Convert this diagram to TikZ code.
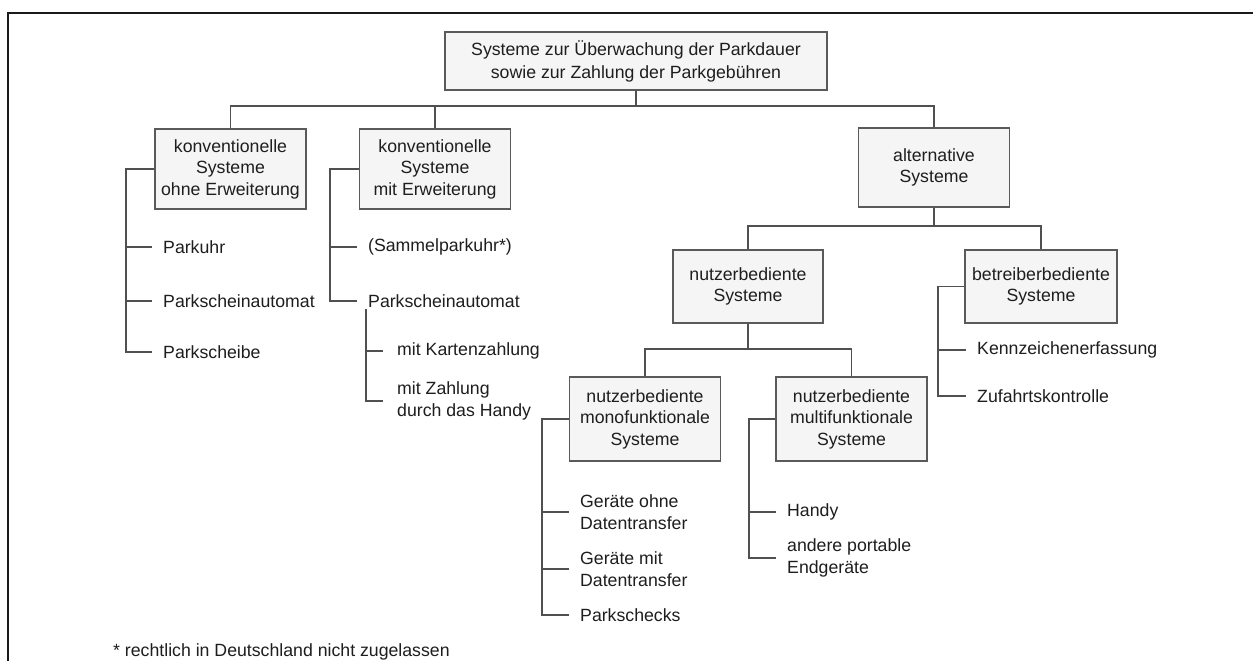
\documentclass[tikz,border=0pt]{standalone}
\usepackage{fontspec}
\setmainfont{Liberation Sans}
\definecolor{txt}{HTML}{1E1E1E}
\definecolor{boxline}{HTML}{5A5A5A}
\definecolor{boxfill}{HTML}{F5F5F5}
\definecolor{linkc}{HTML}{505050}
\definecolor{framec}{HTML}{1A1A1A}
\begin{document}
\begin{tikzpicture}[x=1pt,y=-1pt,
  every node/.style={font=\fontsize{17.7}{21.5}\selectfont, text=txt},
  box/.style={draw=boxline, line width=1.6pt, fill=boxfill, minimum width=151pt,
              align=center, inner sep=0pt},
  leaf/.style={anchor=west, align=left, inner sep=0pt},
  link/.style={draw=linkc, line width=1.5pt},
  ]
\useasboundingbox (0,0) rectangle (1253,661);
\clip (0,0) rectangle (1253,661);
\fill[white] (0,0) rectangle (1253,661);

% outer frame (open to the right and bottom)
\draw[framec, line width=2pt] (8,680) -- (8,13) -- (1270,13);

% boxes
\node[box, minimum width=382pt, minimum height=58pt,
      font=\fontsize{17.7}{23}\selectfont] (top) at (636,61)
  {Systeme zur Überwachung der Parkdauer\\sowie zur Zahlung der Parkgebühren};
\node[box, minimum height=80pt] (k1) at (230.5,169) {konventionelle\\Systeme\\ohne Erweiterung};
\node[box, minimum height=80pt] (k2) at (435,169) {konventionelle\\Systeme\\mit Erweiterung};
\node[box, minimum height=79pt] (alt) at (934,167.5) {alternative\\Systeme};
\node[box, minimum height=73pt, minimum width=150pt] (nb) at (748,286.5) {nutzerbediente\\Systeme};
\node[box, minimum height=73pt, minimum width=152pt] (bb) at (1041,286.5) {betreiberbediente\\Systeme};
\node[box, minimum height=84pt] (mono) at (645,419) {nutzerbediente\\monofunktionale\\Systeme};
\node[box, minimum height=84pt] (multi) at (851.5,419) {nutzerbediente\\multifunktionale\\Systeme};

% leaf entries
\node[leaf] (l11) at (163,247) {Parkuhr};
\node[leaf] (l12) at (163,301) {Parkscheinautomat};
\node[leaf] (l13) at (163,352) {Parkscheibe};
\node[leaf] (l21) at (368,247) {(Sammelparkuhr*)};
\node[leaf] (l22) at (368,301) {Parkscheinautomat};
\node[leaf] (l221) at (397,351) {mit Kartenzahlung};
\node[leaf] (l222) at (397,401) {mit Zahlung\\durch das Handy};
\node[leaf] (b1) at (977,350) {Kennzeichenerfassung};
\node[leaf] (b2) at (977,396) {Zufahrtskontrolle};
\node[leaf] (m1) at (580,512) {Geräte ohne\\Datentransfer};
\node[leaf] (m2) at (580,569) {Geräte mit\\Datentransfer};
\node[leaf] (m3) at (580,615) {Parkschecks};
\node[leaf] (u1) at (787,512) {Handy};
\node[leaf] (u2) at (787,558) {andere portable\\Endgeräte};

\node[anchor=base west, inner sep=0pt] (fn) at (113,656) {* rechtlich in Deutschland nicht zugelassen};

% horizontal buses of the tree
\coordinate (bus1) at (0,106);
\coordinate (bus2) at (0,226);
\coordinate (bus3) at (0,349);
\draw[link] (top.south) -- (top.south |- bus1);
\draw[link] (k1.north) |- (alt.north |- bus1) -- (alt.north);
\draw[link] (k2.north) -- (k2.north |- bus1);
\draw[link] (alt.south) -- (alt.south |- bus2);
\draw[link] (nb.north) |- (bb.north |- bus2) -- (bb.north);
\draw[link] (nb.south) -- (nb.south |- bus3);
\draw[link] (mono.north) |- (multi.north |- bus3) -- (multi.north);

% side brackets listing the members
\coordinate (k1x) at (126,0);
\coordinate (k2x) at (330,0);
\coordinate (psx) at (366,0);
\coordinate (pstop) at (366,309);
\coordinate (bbx) at (938,0);
\coordinate (monox) at (542,0);
\coordinate (multix) at (749,0);

\draw[link] (k1.west) -| (k1x |- l13.west) -- ([xshift=-11pt]l13.west);
\draw[link] (k1x |- l11.west) -- ([xshift=-11pt]l11.west);
\draw[link] (k1x |- l12.west) -- ([xshift=-11pt]l12.west);

\draw[link] (k2.west) -| (k2x |- l22.west) -- ([xshift=-11pt]l22.west);
\draw[link] (k2x |- l21.west) -- ([xshift=-11pt]l21.west);

\draw[link] (pstop) -- (psx |- l222.west) -- ([xshift=-14pt]l222.west);
\draw[link] (psx |- l221.west) -- ([xshift=-14pt]l221.west);

\draw[link] (bb.west) -| (bbx |- b2.west) -- ([xshift=-11pt]b2.west);
\draw[link] (bbx |- b1.west) -- ([xshift=-11pt]b1.west);

\draw[link] (mono.west) -| (monox |- m3.west) -- ([xshift=-11pt]m3.west);
\draw[link] (monox |- m1.west) -- ([xshift=-11pt]m1.west);
\draw[link] (monox |- m2.west) -- ([xshift=-11pt]m2.west);

\draw[link] (multi.west) -| (multix |- u2.west) -- ([xshift=-11pt]u2.west);
\draw[link] (multix |- u1.west) -- ([xshift=-11pt]u1.west);
\end{tikzpicture}
\end{document}
